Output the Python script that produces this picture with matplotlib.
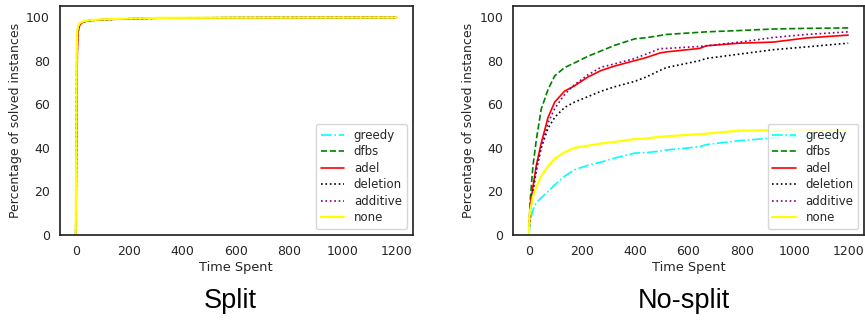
import numpy as np
import matplotlib
matplotlib.use("Agg")
import matplotlib.pyplot as plt
import seaborn as sns

sns.set_style("white")
plt.rcParams["font.family"] = ["DejaVu Sans"]

methods = ["greedy", "dfbs", "adel", "deletion", "additive", "none"]
colors = ["cyan", "green", "red", "black", "purple", "yellow"]
styles = ["-.", "--", "-", ":", ":", "-"]

# Split: nearly everything solved within the first seconds
split_t = [0, 2, 4, 6, 9, 14, 22, 35, 60, 100, 200, 322, 600, 1200]
split_greedy = [0, 38, 84, 93, 95.5, 96.8, 97.6, 98.1, 98.5, 98.8, 99.2, 99.5, 99.7, 99.8]
split_dfbs = [0, 40, 85, 93, 95.5, 96.8, 97.6, 98.1, 98.5, 98.8, 99.2, 99.6, 99.7, 99.8]
split_adel = [0, 18, 58, 84, 93, 96.0, 97.3, 98.0, 98.4, 98.8, 99.2, 99.5, 99.7, 99.8]
split_deletion = [0, 30, 78, 91, 95, 96.5, 97.5, 98.0, 98.5, 98.8, 99.2, 99.5, 99.7, 99.8]
split_additive = [0, 22, 62, 86, 93.5, 96.2, 97.4, 98.0, 98.4, 98.8, 99.2, 99.5, 99.7, 99.8]
split_none = [0, 40, 86, 93.5, 95.8, 97.0, 97.7, 98.2, 98.6, 98.9, 99.3, 99.6, 99.7, 99.8]

# No-split
nosplit_t = [0, 2, 6, 15, 28, 46, 72, 97, 134, 172, 222, 272, 322, 398,
             441, 492, 517, 642, 667, 792, 918, 1043, 1200]
nosplit_greedy = [0, 2.3, 7, 11.5, 15, 17, 20, 23, 27, 30, 32, 33.5, 35.3, 37.6,
                  37.8, 38.5, 39, 40.5, 41.5, 43.3, 44.5, 45.5, 46.5]
nosplit_dfbs = [0, 8, 17.7, 31.5, 43.8, 57.6, 66.8, 73, 76.8, 79, 82, 84.5, 87, 90,
                90.5, 91.5, 92, 93, 93.2, 93.8, 94.5, 94.8, 95]
nosplit_adel = [0, 6, 14.6, 22, 32, 42, 54, 61, 66, 68.5, 72.5, 75.5, 77.5, 80,
                81.4, 83.5, 84, 85.6, 86.8, 88, 88.5, 90.4, 91.7]
nosplit_deletion = [0, 5, 12, 20, 30, 40, 49, 54, 58.5, 61, 63.5, 66, 68, 70.5,
                    72.5, 75.5, 76.8, 80, 81, 83, 85, 86.3, 88]
nosplit_additive = [0, 5, 12, 20, 30, 40, 51.5, 58, 64.5, 69, 73.5, 77, 78.5, 81,
                    83, 85.5, 85.6, 86.5, 86.8, 88.5, 90.6, 92, 93.2]
nosplit_none = [0, 8.4, 12, 17.7, 22, 27, 31.5, 35, 38, 40, 41, 42, 42.7, 44,
                44.3, 45, 45.3, 46.3, 46.5, 47.9, 48, 48, 48]

split_data = [split_greedy, split_dfbs, split_adel, split_deletion, split_additive, split_none]
nosplit_data = [nosplit_greedy, nosplit_dfbs, nosplit_adel, nosplit_deletion,
                nosplit_additive, nosplit_none]

fig = plt.figure(figsize=(8.65, 3.22), dpi=100)
ax1 = fig.add_axes([0.069, 0.270, 0.408, 0.711])
ax2 = fig.add_axes([0.593, 0.270, 0.406, 0.711])


def draw(ax, t, data):
    for name, y, c, ls in zip(methods, data, colors, styles):
        lw = 1.6 if name == "none" else 1.2
        ax.plot(t, y, ls, color=c, lw=lw, label=name)
    ax.set_xlim(-60, 1260)
    ax.set_ylim(0, 105)
    ax.set_xticks([0, 200, 400, 600, 800, 1000, 1200])
    ax.set_yticks([0, 20, 40, 60, 80, 100])
    ax.tick_params(labelsize=9, colors=".15", pad=7, length=0)
    ax.set_xlabel("Time Spent", fontsize=9.3, color=".15", labelpad=2)
    ax.set_ylabel("Percentage of solved instances", fontsize=9, color=".15",
                  labelpad=3)
    for s in ax.spines.values():
        s.set_color(".15")
        s.set_linewidth(1.25)
    ax.legend(loc="lower right", fontsize=8.5, labelspacing=0.3,
              handlelength=2.0, borderpad=0.4)


draw(ax1, split_t, split_data)
draw(ax2, nosplit_t, nosplit_data)

fig.text(230 / 865, 1 - 308 / 322, "Split", fontsize=19.5, color="black",
         family="Liberation Sans", ha="center", va="baseline")
fig.text(684 / 865, 1 - 308 / 322, "No-split", fontsize=19.5, color="black",
         family="Liberation Sans", ha="center", va="baseline")

fig.savefig("out.png", dpi=100)
